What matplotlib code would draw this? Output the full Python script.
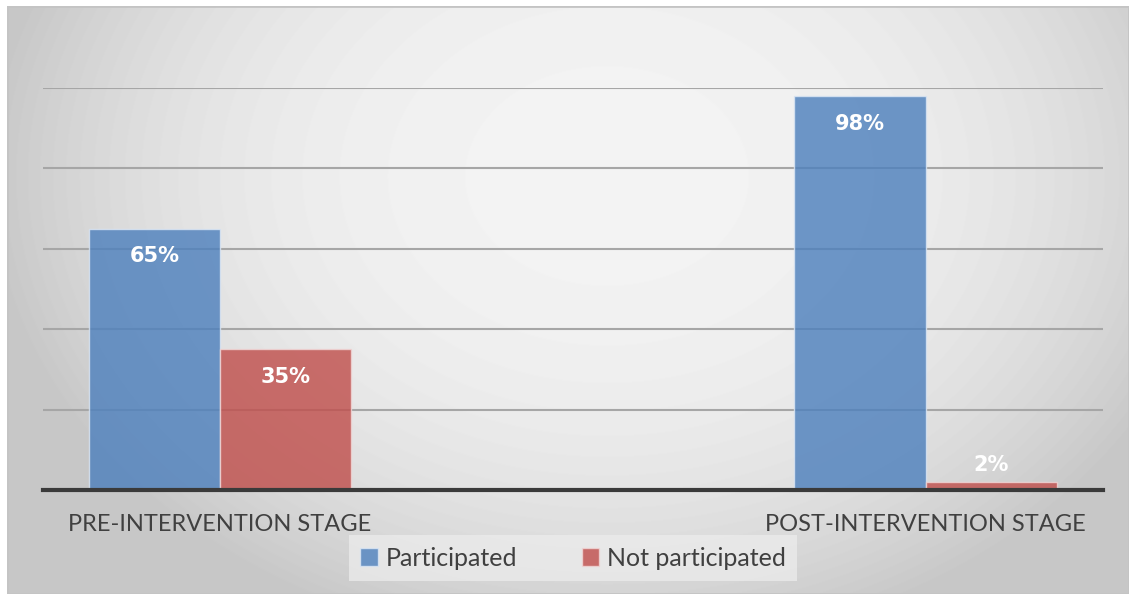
import numpy as np
import matplotlib.pyplot as plt
from matplotlib.patches import Rectangle

# Data
stages = ["PRE-INTERVENTION STAGE", "POST-INTERVENTION STAGE"]
participated = [65, 98]
not_participated = [35, 2]
series_names = ["Participated", "Not participated"]
y_ticks = [0, 20, 40, 60, 80, 100]

W, H = 1129, 594
fig = plt.figure(figsize=(W / 100, H / 100), dpi=100, facecolor="white")

# background panel with soft radial gray gradient
bg = fig.add_axes([7 / W, 0, 1 - 7 / W, (H - 6) / H])
bg.set_axis_off()
yy, xx = np.mgrid[0:588, 0:1122]
r2 = ((xx - 600) / 620.0) ** 2 + ((yy - 170) / 480.0) ** 2
shade = np.clip(243 - 44 * r2 ** 1.3, 199, 243) / 255.0
bg.imshow(shade, cmap="gray", vmin=0, vmax=1, aspect="auto",
          extent=[0, 1, 0, 1], origin="upper")
bg.add_patch(Rectangle((0, 0), 1, 1, transform=bg.transAxes, fill=False,
                       edgecolor="#c4c4c4", lw=2))
bg.set_xlim(0, 1)
bg.set_ylim(0, 1)

# main chart
ax = fig.add_axes([43 / W, (H - 490) / H, 1060 / W, (490 - 88) / H])
ax.patch.set_alpha(0)
x = np.arange(len(stages))
bw = 0.186
blue = "#4f81bd"
red = "#c0504d"
bars1 = ax.bar(x - bw / 2, participated, bw, color=blue, alpha=0.82,
               edgecolor="#dbe6f4", linewidth=1, label=series_names[0], zorder=3)
bars2 = ax.bar(x + bw / 2, not_participated, bw, color=red, alpha=0.82,
               edgecolor="#f0d6d6", linewidth=1, label=series_names[1], zorder=3)

ax.set_xlim(-0.251, 1.2516)
ax.set_ylim(0, 100)
ax.set_yticks(y_ticks)
ax.set_yticklabels([])
ax.tick_params(left=False, bottom=False)
ax.grid(axis="y", color="#a6a6a6", linewidth=1.5, zorder=1)
for s in ["top", "right", "left"]:
    ax.spines[s].set_visible(False)
ax.spines["bottom"].set_color("#3a3a3a")
ax.spines["bottom"].set_linewidth(3)
ax.spines["bottom"].set_zorder(4)

ax.set_xticks(x)
ax.set_xticklabels(stages, fontsize=17, color="#404040", family="Lato")
ax.tick_params(axis="x", pad=14)

# data labels
for bars in (bars1, bars2):
    for b in bars:
        v = b.get_height()
        off = -20 if v > 10 else 12
        ax.annotate(f"{v:.0f}%", (b.get_x() + b.get_width() / 2, v),
                    xytext=(0, off), textcoords="offset points",
                    ha="center", va="center", color="white",
                    fontsize=15, fontweight="bold", family="DejaVu Sans", zorder=5)

leg = fig.legend(handles=[bars1, bars2], labels=series_names,
                 loc="center", bbox_to_anchor=(573 / W, (H - 558) / H),
                 ncol=2, frameon=True, fancybox=False,
                 prop={"family": "Lato", "size": 18},
                 handlelength=0.7, handleheight=0.7, handletextpad=0.3,
                 columnspacing=2.6, borderpad=0.45, borderaxespad=0)
leg.get_frame().set_facecolor("#ececec")
leg.get_frame().set_edgecolor("none")
leg.get_frame().set_alpha(0.75)
for t in leg.get_texts():
    t.set_color("#404040")

fig.savefig("out.png", dpi=100, facecolor="white")
